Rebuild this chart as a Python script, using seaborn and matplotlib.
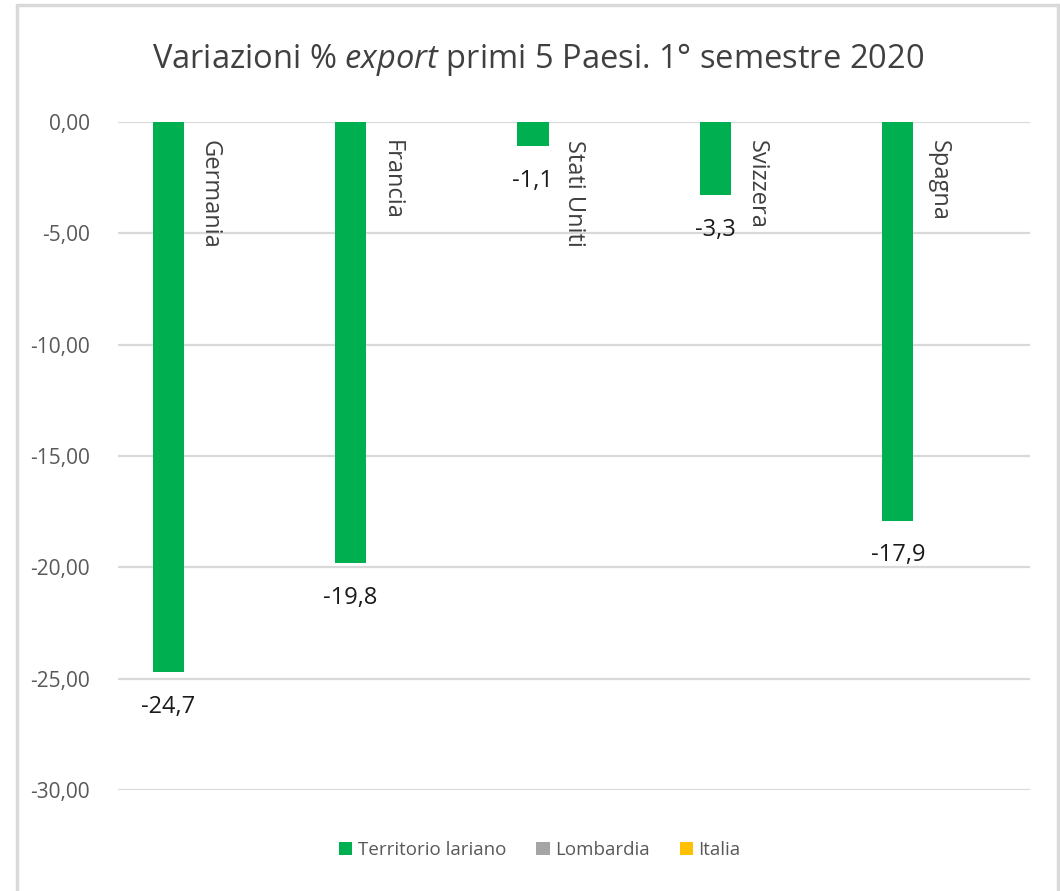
import matplotlib
matplotlib.use("Agg")
import matplotlib.pyplot as plt
import seaborn as sns
import pandas as pd
import numpy as np
from matplotlib.patches import Rectangle
from matplotlib.ticker import FuncFormatter

# ---- data ----
paesi = ["Germania", "Francia", "Stati Uniti", "Svizzera", "Spagna"]
territorio_lariano = [-24.7, -19.8, -1.1, -3.3, -17.9]
lombardia = [np.nan, np.nan, np.nan, np.nan, np.nan]
italia = [np.nan, np.nan, np.nan, np.nan, np.nan]
serie = ["Territorio lariano", "Lombardia", "Italia"]
colori = ["#00B050", "#A5A5A5", "#FFC000"]
y_ticks = [0, -5, -10, -15, -20, -25, -30]
titolo = "Variazioni % $\\mathit{export}$ primi 5 Paesi. 1° semestre 2020"

df = pd.DataFrame({
    "Paese": paesi * 3,
    "Serie": [serie[0]] * 5 + [serie[1]] * 5 + [serie[2]] * 5,
    "Valore": territorio_lariano + lombardia + italia,
})

sns.set_theme(style="white")
FONT = ["Open Sans", "DejaVu Sans"]
plt.rcParams["font.family"] = FONT
plt.rcParams["mathtext.fontset"] = "custom"
plt.rcParams["mathtext.rm"] = "Open Sans"
plt.rcParams["mathtext.it"] = "Open Sans:italic"

fig = plt.figure(figsize=(10.6, 8.91), dpi=100)
ax = fig.add_axes([118 / 1060, 1 - 790 / 891, 912 / 1060, 668 / 891])

sns.barplot(data=df, x="Paese", y="Valore", hue="Serie", hue_order=serie,
            order=paesi, palette=colori, saturation=1, width=0.675, gap=0.24,
            linewidth=0, errorbar=None, ax=ax)

ax.set_ylim(-30, 0)
ax.set_yticks(y_ticks)
ax.yaxis.set_major_formatter(FuncFormatter(lambda v, p: f"{v:.2f}".replace(".", ",").replace("-0,00", "0,00")))
ax.set_xticks([])
ax.set_xlabel("")
ax.set_ylabel("")
ax.tick_params(axis="y", length=0, pad=20, labelsize=15, labelcolor="#595959")
ax.grid(axis="y", color="#d9d9d9", linewidth=1.6)
ax.set_axisbelow(True)
for s in ax.spines.values():
    s.set_visible(False)

# value labels and rotated category names
green_bars = ax.containers[0]
for i, (rect, v) in enumerate(zip(green_bars, territorio_lariano)):
    xc = rect.get_x() + rect.get_width() / 2
    ax.annotate(f"{v:.1f}".replace(".", ","), xy=(xc, v), xytext=(0, -25),
                textcoords="offset points", ha="center", va="center",
                fontsize=17, color="#1a1a1a")
    ax.annotate(paesi[i], xy=(i, 0), xytext=(0, -13), textcoords="offset points",
                ha="center", va="top", rotation=-90, fontsize=17, color="#404040")

# legend
sns.move_legend(ax, "center", bbox_to_anchor=(540 / 1060, 1 - 850 / 891),
                bbox_transform=fig.transFigure, ncol=3, frameon=False, title=None,
                fontsize=13.5, handlelength=0.7, handleheight=0.7, handletextpad=0.3,
                columnspacing=1.6)
for t in ax.get_legend().get_texts():
    t.set_color("#595959")

fig.text(538 / 1060, 1 - 60 / 891, titolo, ha="center", va="center",
         fontsize=23.5, color="#404040")

fig.patches.append(Rectangle((17 / 1060, -0.05), (1058 - 17) / 1060, 1.05 - 5 / 891,
                             transform=fig.transFigure, fill=False,
                             edgecolor="#d9d9d9", linewidth=2.5))

fig.savefig("out.png", dpi=100, facecolor="white")
